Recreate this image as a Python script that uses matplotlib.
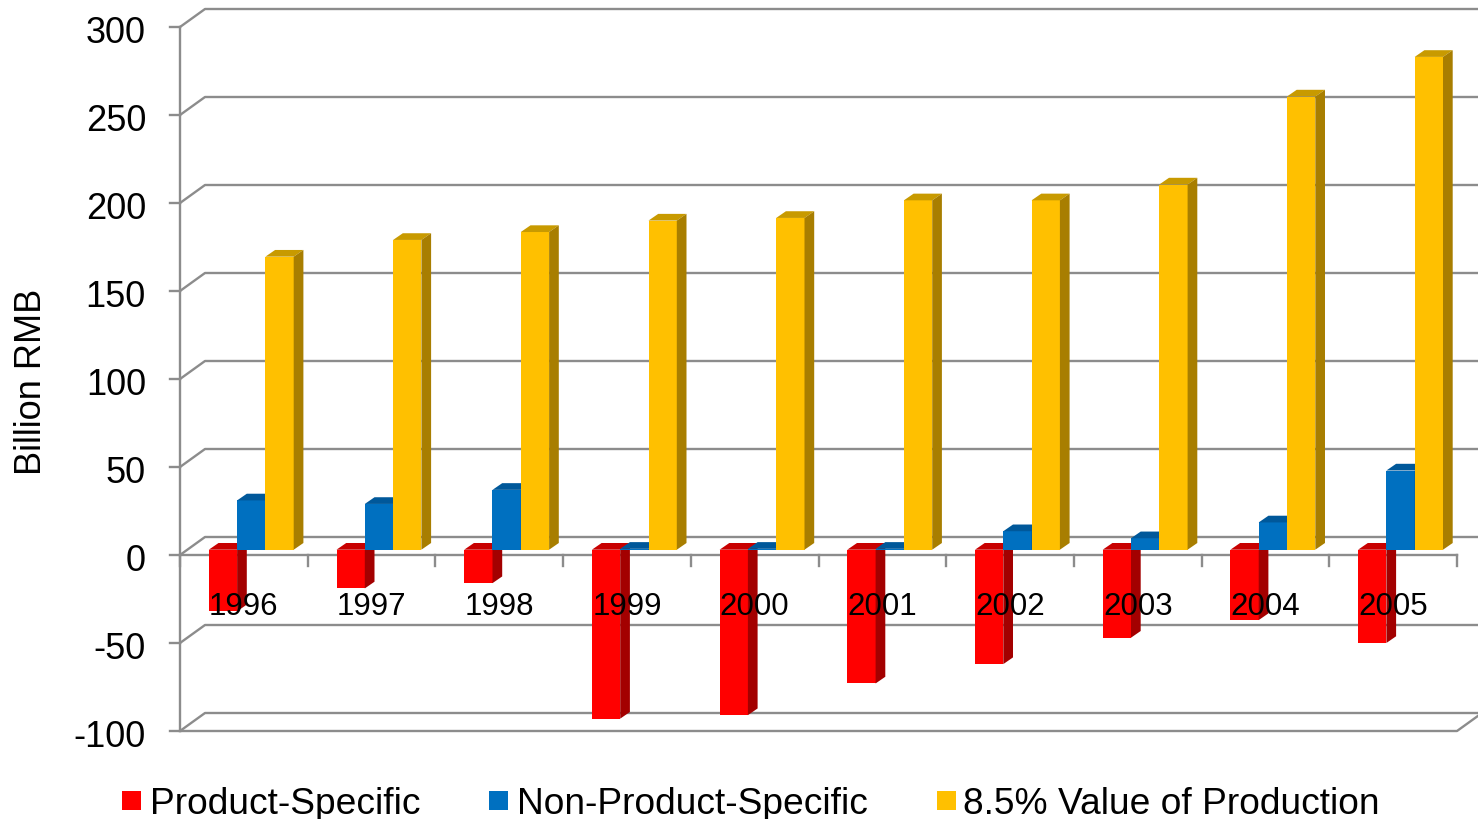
import matplotlib

matplotlib.use("Agg")

import matplotlib.pyplot as plt
from matplotlib.patches import Polygon, Rectangle

plt.rcParams["font.family"] = ["Liberation Sans", "DejaVu Sans"]

# data (billion RMB)
years = ["1996", "1997", "1998", "1999", "2000", "2001", "2002", "2003", "2004", "2005"]
product_specific = [-35, -22, -19, -96, -94, -76, -65, -50, -40, -53]
non_product_specific = [28, 26, 34, 0.5, 0.5, 0.5, 10.5, 6.5, 15.5, 45]
value_of_production = [166.5, 176, 180.5, 187, 188.5, 198.5, 198.5, 207.5, 257.5, 280]
series_names = ["Product-Specific", "Non-Product-Specific", "8.5% Value of Production"]
y_ticks = [-100, -50, 0, 50, 100, 150, 200, 250, 300]

# front, top, side shading for each series
series_colors = [
    ("#ff0000", "#c80000", "#a30000"),
    ("#0070c0", "#00589a", "#004f8a"),
    ("#ffc000", "#c89a00", "#a87e00"),
]

# pixel scale of the plot box
PX_CAT = 127.7   # px per category
PX_VAL = 1.76    # px per billion RMB

# depth of the walls and of the bars (in data units)
WALL_DX, WALL_DY = 25 / PX_CAT, 18 / PX_VAL
BAR_SHIFT_DX, BAR_SHIFT_DY = 7.4 / PX_CAT, 5.3 / PX_VAL
BAR_DX, BAR_DY = 9.7 / PX_CAT, 6.7 / PX_VAL
BAR_W = 28.3 / PX_CAT

GRID_COLOR = "#8c8c8c"
GRID_LW = 1.7

fig = plt.figure(figsize=(14.78, 8.2), dpi=100)
ax = fig.add_axes([0, 0, 1, 1])
ax.set_xlim(-180 / PX_CAT, 1298 / PX_CAT)
ax.set_ylim(-264 / PX_VAL, 556 / PX_VAL)
ax.axis("off")

n = len(years)

# side wall + back wall gridlines
for v in y_ticks:
    ax.plot([0, WALL_DX, n + WALL_DX + 0.3], [v, v + WALL_DY, v + WALL_DY],
            color=GRID_COLOR, lw=GRID_LW, solid_capstyle="butt", zorder=1)
    ax.plot([-10 / PX_CAT, 0], [v, v], color=GRID_COLOR, lw=GRID_LW, zorder=1)
    ax.text(-34 / PX_CAT, v - 15.3 / PX_VAL, f"{v}", ha="right", va="baseline",
            fontsize=26, color="black")

# value axis, floor edge and category axis
bottom, top = y_ticks[0], y_ticks[-1]
ax.plot([0, 0], [bottom, top], color=GRID_COLOR, lw=GRID_LW, zorder=1)
ax.plot([0, n, n + WALL_DX], [bottom, bottom, bottom + WALL_DY],
        color=GRID_COLOR, lw=GRID_LW, zorder=1)
ax.plot([0, n], [0, 0], color=GRID_COLOR, lw=GRID_LW, zorder=1)
for c in range(n + 1):
    ax.plot([c, c], [0, -10.5 / PX_VAL], color=GRID_COLOR, lw=GRID_LW, zorder=1)

# 3-D looking columns
all_series = [product_specific, non_product_specific, value_of_production]
offset0 = (1 - 3 * BAR_W) / 2
for j, values in enumerate(all_series):
    front, top_c, side_c = series_colors[j]
    xs = [i + offset0 + j * BAR_W + BAR_SHIFT_DX for i in range(n)]
    base = BAR_SHIFT_DY
    z = 3 + j
    ax.bar(xs, values, width=BAR_W, bottom=base, align="edge",
           color=front, edgecolor="none", zorder=z)
    for x0, v in zip(xs, values):
        x1 = x0 + BAR_W
        hi = base + max(v, 0)
        lo = base + min(v, 0)
        ax.add_patch(Polygon([(x0, hi), (x1, hi), (x1 + BAR_DX, hi + BAR_DY),
                              (x0 + BAR_DX, hi + BAR_DY)],
                             closed=True, facecolor=top_c, edgecolor="none", zorder=z))
        ax.add_patch(Polygon([(x1, lo), (x1, hi), (x1 + BAR_DX, hi + BAR_DY),
                              (x1 + BAR_DX, lo + BAR_DY)],
                             closed=True, facecolor=side_c, edgecolor="none", zorder=z))

# category labels sit over the bars
for i, year in enumerate(years):
    ax.text(i + 0.5, -59 / PX_VAL, year, ha="center", va="baseline",
            fontsize=22.5, color="black", zorder=10)

fig.text(32 / 1478, 1 - 382 / 820, "Billion RMB", rotation=90,
         ha="center", va="center", fontsize=26)

# legend along the bottom
legend_x = [(122, 150), (489, 517), (937, 963)]
for (sq_x, txt_x), name, colors in zip(legend_x, series_names, series_colors):
    fig.patches.append(Rectangle((sq_x / 1478, 1 - 811 / 820), 19 / 1478, 19 / 820,
                                 transform=fig.transFigure, facecolor=colors[0],
                                 edgecolor="none"))
    fig.text(txt_x / 1478, 1 - 814 / 820, name, ha="left", va="baseline", fontsize=26.7)

fig.savefig("out.png", dpi=100, facecolor="white")
